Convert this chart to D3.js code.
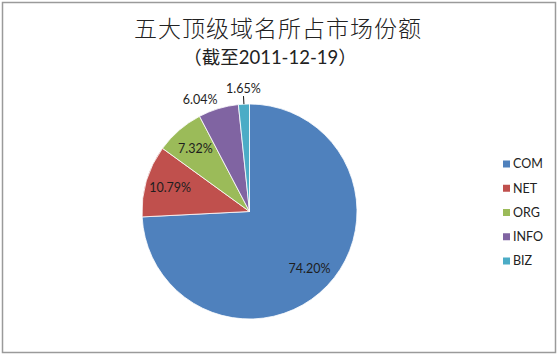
<!DOCTYPE html>
<html>
<head>
<meta charset="utf-8">
<script src="https://cdn.jsdelivr.net/npm/d3@7"></script>
<style>
  body { margin: 0; background: #fff; }
</style>
</head>
<body>
<div id="container"></div>
<script>
// five top level domains, share in percent
let domains = ["COM", "NET", "ORG", "INFO", "BIZ"];
let shares = [74.20, 10.79, 7.32, 6.04, 1.65];
let colors = ["#4f81bd", "#c0504d", "#9bbb59", "#8064a2", "#4bacc6"];
let titleText = "五大顶级域名所占市场份额";
let subtitleText = "（截至2011-12-19）";

let w = 558;
let h = 355;
let cx = 249.5;
let cy = 211.5;
let r = 107.5;

let viz = d3.select("#container")
  .append("svg")
    .attr("width", w)
    .attr("height", h)
;

// outer frame
viz.append("rect")
    .attr("x", 2.5)
    .attr("y", 2.5)
    .attr("width", w - 5)
    .attr("height", h - 5)
    .attr("fill", "white")
    .attr("stroke", "#9a9a9a")
    .attr("stroke-width", 1.5)
;

viz.append("text")
    .attr("x", 278)
    .attr("y", 37)
    .attr("text-anchor", "middle")
    .style("font-family", "'Noto Sans CJK SC'")
    .style("font-weight", 300)
    .style("font-size", "23px")
    .style("letter-spacing", "1px")
    .attr("fill", "#222")
    .text(titleText)
;

viz.append("text")
    .attr("x", 270)
    .attr("y", 64)
    .attr("text-anchor", "middle")
    .style("font-family", "Lato, 'Noto Sans CJK SC'")
    .style("font-weight", 400)
    .style("font-size", "18.5px")
    .attr("fill", "#222")
    .text(subtitleText)
;

let data = domains.map(function(d, i){
  return { name: d, value: shares[i], color: colors[i] };
});

let pie = d3.pie()
    .sort(null)
    .value(function(d){ return d.value; })
;
let arcs = pie(data);

let arcMaker = d3.arc().innerRadius(0).outerRadius(r);
let inLabel = d3.arc().innerRadius(r * 0.77).outerRadius(r * 0.77);

let pieGroup = viz.append("g")
    .attr("transform", "translate(" + cx + "," + cy + ")")
;

pieGroup.selectAll(".slice").data(arcs).enter()
  .append("path")
    .attr("class", "slice")
    .attr("d", arcMaker)
    .attr("fill", function(d){ return d.data.color; })
    .attr("stroke", "white")
    .attr("stroke-width", 0.8)
;

function isOutside(d){
  return d.data.value < 7;
}
function midAngle(d){
  return (d.startAngle + d.endAngle) / 2;
}
// very thin slices get a leader line
function needsLeader(d){
  return d.data.value < 3;
}

let leaderArcs = arcs.filter(needsLeader);
pieGroup.selectAll(".leader").data(leaderArcs).enter()
  .append("line")
    .attr("class", "leader")
    .attr("x1", function(d){ return d3.arc().innerRadius(r).outerRadius(r).centroid(d)[0]; })
    .attr("y1", function(d){ return d3.arc().innerRadius(r).outerRadius(r).centroid(d)[1]; })
    .attr("x2", function(d){ return d3.arc().innerRadius(r * 1.075).outerRadius(r * 1.075).centroid(d)[0]; })
    .attr("y2", function(d){ return d3.arc().innerRadius(r * 1.075).outerRadius(r * 1.075).centroid(d)[1]; })
    .attr("stroke", "#111")
    .attr("stroke-width", 1)
;

pieGroup.selectAll(".lbl").data(arcs).enter()
  .append("text")
    .attr("class", "lbl")
    .each(function(d){
      let t = d3.select(this);
      if (!isOutside(d)) {
        let p = inLabel.centroid(d);
        t.attr("x", p[0]).attr("y", p[1]).attr("dy", "0.35em").attr("text-anchor", "middle");
        return;
      }
      let a = midAngle(d);
      let rr = needsLeader(d) ? r * 1.09 : r + 3;
      let px = Math.sin(a) * rr;
      let py = -Math.cos(a) * rr;
      let anchor = Math.abs(Math.sin(a)) < 0.15 ? "middle" : (Math.sin(a) < 0 ? "end" : "start");
      t.attr("x", px).attr("y", py)
       .attr("dy", Math.cos(a) > 0 ? "-0.1em" : "0.9em")
       .attr("text-anchor", anchor);
    })
    .style("font-family", "Lato, 'Open Sans', sans-serif")
    .style("font-size", "12.5px")
    .attr("fill", "#1e1e1e")
    .text(function(d){ return d.data.value.toFixed(2) + "%"; })
;

// legend
let legendY = d3.scalePoint().domain(domains).range([164, 261]);
let legend = viz.selectAll(".legend").data(data).enter()
  .append("g")
    .attr("class", "legend")
    .attr("transform", function(d){ return "translate(503," + legendY(d.name) + ")"; })
;
legend.append("rect")
    .attr("x", 0)
    .attr("y", -3.5)
    .attr("width", 7)
    .attr("height", 7)
    .attr("fill", function(d){ return d.color; })
;
legend.append("text")
    .attr("x", 10)
    .attr("dy", "0.35em")
    .style("font-family", "Lato, 'Open Sans', sans-serif")
    .style("font-size", "12.5px")
    .attr("fill", "#222")
    .text(function(d){ return d.name; })
;
</script>
</body>
</html>
